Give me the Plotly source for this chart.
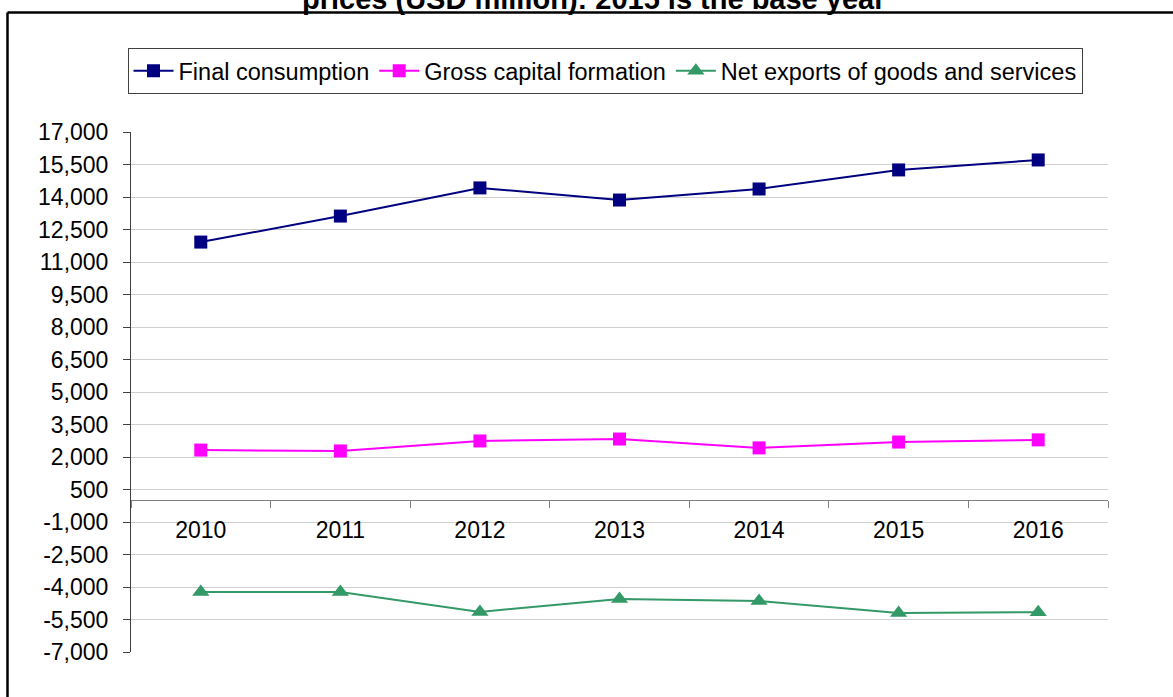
import plotly.graph_objects as go

# dados
anos = ["2010", "2011", "2012", "2013", "2014", "2015", "2016"]
consumo_final = [11920, 13120, 14420, 13860, 14370, 15250, 15710]
formacao_capital = [2320, 2280, 2740, 2830, 2420, 2690, 2790]
exportacoes_liq = [-4230, -4230, -5150, -4550, -4650, -5200, -5160]
ticks_y = list(range(-7000, 17001, 1500))
rotulos_y = ["-7,000", "-5,500", "-4,000", "-2,500", "-1,000", "500", "2,000",
             "3,500", "5,000", "6,500", "8,000", "9,500", "11,000", "12,500",
             "14,000", "15,500", "17,000"]

W, H = 1173, 697
L, R, T, B = 131, 1108, 132, 652  # area do grafico em pixels


def px_x(px):
    return (px - L) / (R - L)


def px_y(py):
    return (B - py) / (B - T)


fig = go.Figure()

series = [
    ("Final consumption", consumo_final, "#000080", "square", 13),
    ("Gross capital formation", formacao_capital, "#FF00FF", "square", 13),
    ("Net exports of goods and services", exportacoes_liq, "#339966", "triangle-up", 15),
]
for nome, vals, cor, simb, tam in series:
    fig.add_trace(
        go.Scatter(
            x=anos,
            y=vals,
            mode="lines+markers",
            name=nome,
            line=dict(color=cor, width=2),
            marker=dict(color=cor, symbol=simb, size=tam),
        )
    )

# moldura (so topo e esquerda aparecem)
fig.add_shape(type="line", xref="paper", yref="paper",
              x0=px_x(7.5), x1=px_x(1190), y0=px_y(12.5), y1=px_y(12.5),
              line=dict(color="black", width=2.5))
fig.add_shape(type="line", xref="paper", yref="paper",
              x0=px_x(7.5), x1=px_x(7.5), y0=px_y(12.5), y1=px_y(720),
              line=dict(color="black", width=2.5))

# titulo cortado no topo
fig.add_annotation(
    text="<b>prices (USD million): 2015 is the base year</b>",
    xref="paper", yref="paper", x=px_x(593), y=px_y(-1.5),
    xanchor="center", yanchor="middle", showarrow=False,
    font=dict(family="Liberation Sans, Arial", size=29, color="black"),
)

fig.update_layout(
    width=W,
    height=H,
    margin=dict(l=L, r=W - R, t=T, b=H - B),
    paper_bgcolor="white",
    plot_bgcolor="white",
    font=dict(family="Liberation Sans, Arial", size=23, color="black"),
    showlegend=True,
    legend=dict(
        orientation="h",
        x=px_x(605), xanchor="center",
        y=px_y(48), yanchor="top",
        bordercolor="#404040", borderwidth=1,
        font=dict(size=23.5),
        itemwidth=40,
    ),
    xaxis=dict(
        type="category",
        range=[-0.5, 6.5],
        anchor="free",
        position=px_y(500),
        showline=True, linecolor="#808080", linewidth=1,
        ticks="outside", ticklen=7, tickcolor="#808080",
        tickson="boundaries",
        ticklabelstandoff=9,
        showgrid=False,
        tickfont=dict(size=23),
    ),
    yaxis=dict(
        range=[-7000, 17000],
        tickvals=ticks_y,
        ticktext=rotulos_y,
        showline=True, linecolor="#404040", linewidth=1,
        ticks="outside", ticklen=7, tickcolor="#404040",
        ticklabelstandoff=10,
        gridcolor="#d0d0d0", gridwidth=1,
        zeroline=False,
        tickfont=dict(size=23),
    ),
)

# tira a margem padrao do body para o grafico comecar no canto
fig.write_html(
    "out.html",
    config={"displayModeBar": False},
    post_script="document.body.style.margin = '0';",
)
